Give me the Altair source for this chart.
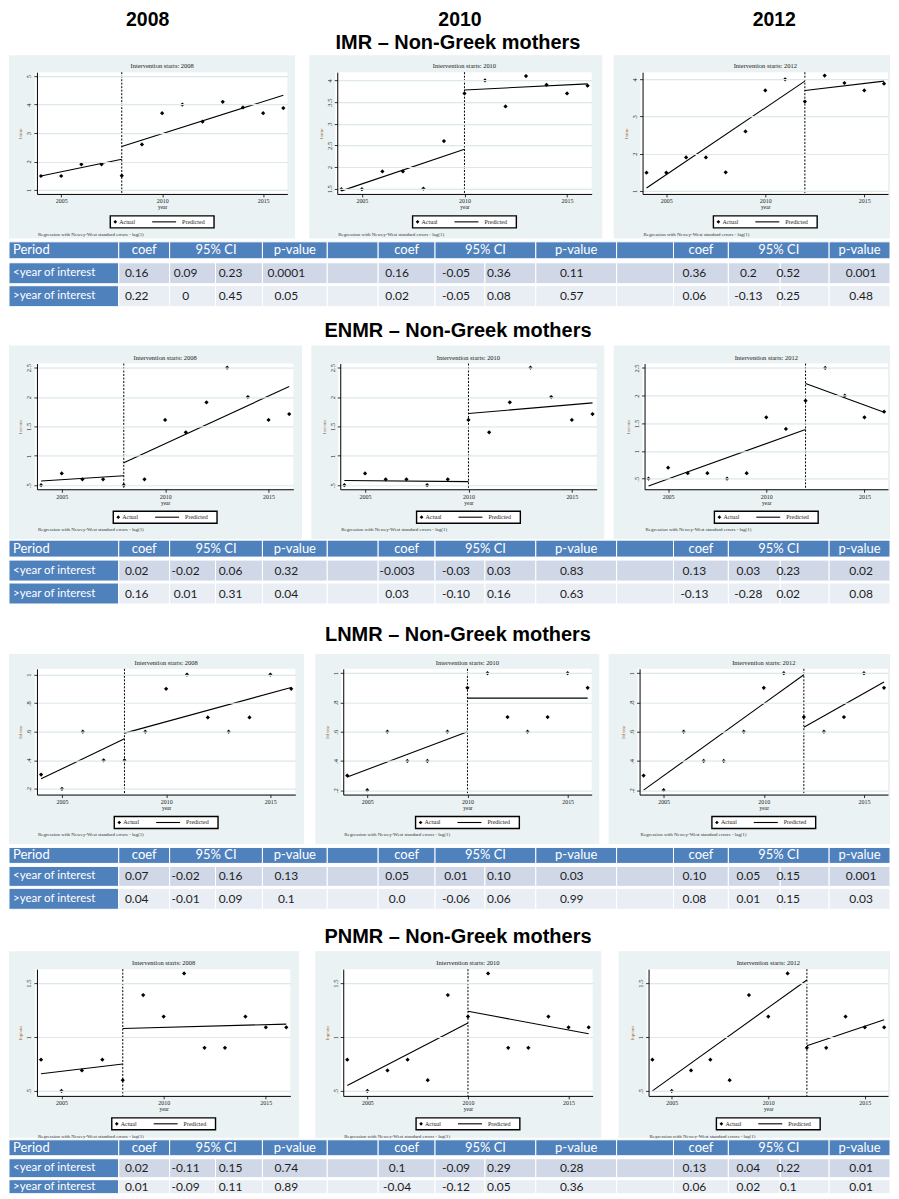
import altair as alt
import pandas as pd

# ---------------- data ----------------
years = [2004, 2005, 2006, 2007, 2008, 2009, 2010, 2011, 2012, 2013, 2014, 2015, 2016]
interventions = [2008, 2010, 2012]
section_titles = ["IMR – Non-Greek mothers", "ENMR – Non-Greek mothers",
                  "LNMR – Non-Greek mothers", "PNMR – Non-Greek mothers"]
y_titles = ["lnimr", "lnenmr", "lnlnmr", "lnpnmr"]

imr = [1.49, 1.49, 1.90, 1.90, 1.50, 2.60, 3.70, 4.00, 3.40, 4.10, 3.90, 3.70, 3.88]
enmr = [0.50, 0.70, 0.60, 0.60, 0.50, 0.60, 1.61, 1.40, 1.91, 2.50, 2.00, 1.61, 1.71]
lnmr = [0.30, 0.20, 0.60, 0.40, 0.40, 0.60, 0.90, 1.00, 0.70, 0.60, 0.70, 1.00, 0.90]
pnmr = [0.79, 0.50, 0.69, 0.79, 0.60, 1.39, 1.19, 1.59, 0.90, 0.90, 1.19, 1.09, 1.09]

# predicted segments: [pre at 2004, pre at intervention, post at intervention, post at 2016]
imr_fit = [[1.49, 2.08, 2.53, 4.33], [1.45, 2.41, 3.78, 3.92], [1.08, 3.95, 3.70, 3.95]]
enmr_fit = [[0.57, 0.66, 0.88, 2.18], [0.58, 0.56, 1.72, 1.90], [0.37, 1.39, 2.22, 1.70]]
lnmr_fit = [[0.27, 0.55, 0.59, 0.91], [0.29, 0.60, 0.83, 0.83], [0.20, 0.99, 0.63, 0.94]]
pnmr_fit = [[0.66, 0.75, 1.08, 1.12], [0.55, 1.13, 1.24, 1.03], [0.50, 1.53, 0.92, 1.16]]

imr_ticks = [[1, 2, 3, 4, 5], [1.5, 2, 2.5, 3, 3.5, 4], [1, 2, 3, 4]]
enmr_ticks = [[0.5, 1, 1.5, 2, 2.5]] * 3
lnmr_ticks = [[0.2, 0.4, 0.6, 0.8, 1]] * 3
pnmr_ticks = [[0.5, 1, 1.5]] * 3

imr_ydom = [[0.86, 5.14], [1.38, 4.19], [0.92, 4.19]]
enmr_ydom = [[0.43, 2.57], [0.43, 2.57], [0.31, 2.58]]
lnmr_ydom = [[0.16, 1.04], [0.17, 1.03], [0.17, 1.03]]
pnmr_ydom = [[0.454, 1.63], [0.454, 1.63], [0.454, 1.63]]

header_labels = ["Period", "coef", "95% CI", "p-value", "", "coef", "95% CI", "p-value",
                 "", "coef", "95% CI", "p-value"]
period_labels = ["<year of interest", ">year of interest"]

imr_table = [["0.16", "0.09", "0.23", "0.0001", "0.16", "-0.05", "0.36", "0.11", "0.36", "0.2", "0.52", "0.001"],
             ["0.22", "0", "0.45", "0.05", "0.02", "-0.05", "0.08", "0.57", "0.06", "-0.13", "0.25", "0.48"]]
enmr_table = [["0.02", "-0.02", "0.06", "0.32", "-0.003", "-0.03", "0.03", "0.83", "0.13", "0.03", "0.23", "0.02"],
              ["0.16", "0.01", "0.31", "0.04", "0.03", "-0.10", "0.16", "0.63", "-0.13", "-0.28", "0.02", "0.08"]]
lnmr_table = [["0.07", "-0.02", "0.16", "0.13", "0.05", "0.01", "0.10", "0.03", "0.10", "0.05", "0.15", "0.001"],
              ["0.04", "-0.01", "0.09", "0.1", "0.0", "-0.06", "0.06", "0.99", "0.08", "0.01", "0.15", "0.03"]]
pnmr_table = [["0.02", "-0.11", "0.15", "0.74", "0.1", "-0.09", "0.29", "0.28", "0.13", "0.04", "0.22", "0.01"],
              ["0.01", "-0.09", "0.11", "0.89", "-0.04", "-0.12", "0.05", "0.36", "0.06", "0.02", "0.1", "0.01"]]

# ---------------- layout / style ----------------
SERIF = "Liberation Serif"
SANS = "Lato"
TITLE_FONT = "Liberation Sans"
FRAME = "#EAF2F3"
ORIGIN = 8
TW = 883

# per row: (frame top, frame bottom, plot top, plot bottom) in page px
ROW_V = [(54, 238, 71, 193), (344, 538, 362, 488), (652, 843, 667, 793), (949, 1136, 967, 1094)]
# per row, per panel: (frame left, frame right, plot left, plot right) in page px
ROW_H = [
    [(8, 295, 36, 287), (309, 603, 337, 592), (614, 891, 643, 889)],
    [(8, 302, 36, 293), (311, 605, 340, 597), (614, 891, 645, 889)],
    [(8, 304, 36, 295), (315, 600, 343, 592), (609, 891, 640, 889)],
    [(8, 299, 36, 290), (315, 602, 343, 593), (619, 891, 649, 889)],
]
COL_EDGES = [e - ORIGIN for e in [8, 118, 169, 215, 262, 327, 378, 435, 485, 536, 617, 674, 729, 781, 830, 891]]
# text anchor (page x) of the value in each data column
DATA_TX = [e - ORIGIN if e else 0 for e in
           [0, 136, 185, 230, 286, 0, 397, 456, 499, 572, 0, 695, 749, 789, 862]]
HDR_SPANS = [(0, 1), (1, 2), (2, 4), (4, 5), (5, 6), (6, 7), (7, 9), (9, 10), (10, 11), (11, 12), (12, 14), (14, 15)]
# table: (height, header y0,y1, row1 y0,y1, row2 y0,y1) local
TABLE_V = [(68, 3, 20, 24, 45, 47, 68), (65, 1, 18, 21, 42, 44, 65),
           (65, 3, 19, 22, 42, 44, 65), (55, 1, 17, 20, 39, 41, 55)]
# section headers: (height, title y)
HEAD_V = [(46, 33.3), (38, 23), (49, 30), (41, 27)]
YEAR_X = [139, 452, 767]
TITLE_X = 450

one = pd.DataFrame({"k": [0]})


def panel(series, fit, interv, ytitle, ticks, ydom, hg, vg, gap):
    fl, fr, pl, pr = hg
    ft, fb, pt, pb = vg
    VW = gap + (fr - fl)
    VH = fb - ft
    x0 = gap + (pl - fl)
    x1 = gap + (pr - fl)
    y0 = pt - ft
    y1 = pb - ft
    xs = alt.Scale(domain=[2003.8, 2016.2], range=[x0, x1], nice=False, zero=False)
    ys = alt.Scale(domain=ydom, range=[y1, y0], nice=False, zero=False)
    xax = alt.Axis(values=[2005, 2010, 2015], format="d", title="year", grid=False, zindex=1,
                   offset=-(VH - y1),
                   domainColor="black", domainWidth=1, tickColor="black", tickSize=3, tickWidth=0.8,
                   labelFont=SERIF, labelFontSize=6, labelColor="#222", labelPadding=1,
                   titleFont=SERIF, titleFontSize=5.5, titleFontWeight="normal", titleColor="#222",
                   titlePadding=1)
    yax = alt.Axis(values=ticks, labelAngle=270, labelAlign="center", labelBaseline="bottom",
                   labelExpr="replace(toString(datum.value), regexp('^0'), '')",
                   offset=-x0,
                   title=ytitle, grid=True, gridColor="#DCE8EC", gridWidth=1.2, zindex=1,
                   domainColor="black", domainWidth=1, tickColor="black", tickSize=3, tickWidth=0.8,
                   labelFont=SERIF, labelFontSize=6.5, labelColor="#222", labelPadding=2,
                   titleFont=SERIF, titleFontSize=5, titleFontWeight="normal", titleColor="#9a5a2a",
                   titlePadding=3)

    def X(f):
        return alt.X(f, scale=xs, axis=xax)

    def Y(f):
        return alt.Y(f, scale=ys, axis=yax)

    layers = []
    layers.append(alt.Chart(one).mark_rect(fill="white").encode(
        x=alt.value(0), x2=alt.value(VW), y=alt.value(0), y2=alt.value(VH)))
    layers.append(alt.Chart(one).mark_rect(fill=FRAME).encode(
        x=alt.value(gap), x2=alt.value(VW), y=alt.value(0), y2=alt.value(VH)))
    layers.append(alt.Chart(one).mark_rect(fill="white").encode(
        x=alt.value(x0 - 2), x2=alt.value(x1), y=alt.value(y0), y2=alt.value(y1)))

    pts = pd.DataFrame({"year": years, "value": series})
    seg = pd.DataFrame({"year": [years[0], interv, interv, years[-1]],
                        "value": fit, "seg": ["pre", "pre", "post", "post"]})
    vl = pd.DataFrame({"year": [interv]})

    layers.append(alt.Chart(vl).mark_rule(color="black", strokeWidth=1, strokeDash=[2, 1.5]).encode(
        x=X("year:Q"), y=alt.value(y0), y2=alt.value(y1)))
    layers.append(alt.Chart(seg).mark_line(color="black", strokeWidth=1.1).encode(
        x=X("year:Q"), y=Y("value:Q"), detail="seg:N"))
    layers.append(alt.Chart(pts).mark_point(shape="diamond", filled=True, size=18, color="black",
                                            opacity=1).encode(x=X("year:Q"), y=Y("value:Q")))
    cx = (x0 + x1) / 2
    layers.append(alt.Chart(one).mark_text(font=SERIF, fontSize=6.5, color="#1a1a1a",
                                           align="center", baseline="middle").encode(
        x=alt.value(cx), y=alt.value(y0 - 6), text=alt.value(f"Intervention starts: {interv}")))
    # legend
    bx0 = cx - 52
    ly = y1 + 28
    layers.append(alt.Chart(one).mark_rect(fill="white", stroke="black", strokeWidth=1.4).encode(
        x=alt.value(bx0), x2=alt.value(bx0 + 104), y=alt.value(y1 + 22), y2=alt.value(y1 + 34)))
    layers.append(alt.Chart(one).mark_point(shape="diamond", filled=True, size=14, color="black",
                                            opacity=1).encode(x=alt.value(bx0 + 5), y=alt.value(ly)))
    layers.append(alt.Chart(one).mark_rule(color="black", strokeWidth=1.1).encode(
        x=alt.value(bx0 + 42), x2=alt.value(bx0 + 66), y=alt.value(ly)))
    layers.append(alt.Chart(one).mark_text(font=SERIF, fontSize=6, color="#222", align="left",
                                           baseline="middle").encode(
        x=alt.value(bx0 + 9), y=alt.value(ly), text=alt.value("Actual")))
    layers.append(alt.Chart(one).mark_text(font=SERIF, fontSize=6, color="#222", align="left",
                                           baseline="middle").encode(
        x=alt.value(bx0 + 72), y=alt.value(ly), text=alt.value("Predicted")))
    layers.append(alt.Chart(one).mark_text(font=SERIF, fontSize=5, color="#333", align="left",
                                           baseline="middle").encode(
        x=alt.value(x0 + 1), y=alt.value(y1 + 40),
        text=alt.value("Regression with Newey-West standard errors - lag(1)")))
    return alt.layer(*layers).properties(width=VW, height=VH)


def header_chart(idx):
    H, ty = HEAD_V[idx]
    layers = [alt.Chart(one).mark_text(font=TITLE_FONT, fontWeight="bold", fontSize=20, color="black",
                                       align="center", baseline="middle").encode(
        x=alt.value(TITLE_X), y=alt.value(ty), text=alt.value(section_titles[idx]))]
    if idx == 0:
        for yx, yv in zip(YEAR_X, interventions):
            layers.append(alt.Chart(one).mark_text(font=TITLE_FONT, fontWeight="bold", fontSize=19.5,
                                                   color="black", align="center",
                                                   baseline="middle").encode(
                x=alt.value(yx), y=alt.value(11), text=alt.value(str(yv))))
    return alt.layer(*layers).properties(width=TW, height=H)


def table_chart(rows, idx):
    H, h0, h1, a0, a1, b0, b1 = TABLE_V[idx]
    recs = []
    for lab, (a, b) in zip(header_labels, HDR_SPANS):
        recs.append(dict(x0=COL_EDGES[a], x1=COL_EDGES[b], y0=h0, y1=h1, fill="#4F81BD",
                         text=lab, kind="hl" if lab == "Period" else "hc",
                         tx=(COL_EDGES[a] + COL_EDGES[b]) / 2))
    for ri, (y0, y1, fc) in enumerate([(a0, a1, "#D0D8E8"), (b0, b1, "#E9EDF4")]):
        recs.append(dict(x0=COL_EDGES[0], x1=COL_EDGES[1], y0=y0, y1=y1, fill="#4F81BD",
                         text=period_labels[ri], kind="dl", tx=COL_EDGES[0] + 4))
        vi = 0
        for c in range(1, 15):
            if c in (5, 10):
                t = ""
            else:
                t = rows[ri][vi]
                vi += 1
            recs.append(dict(x0=COL_EDGES[c], x1=COL_EDGES[c + 1], y0=y0, y1=y1, fill=fc,
                             text=t, kind="dc", tx=DATA_TX[c]))
    df = pd.DataFrame(recs)
    df.loc[df["kind"] == "hl", "tx"] = COL_EDGES[0] + 4
    df["ty"] = (df["y0"] + df["y1"]) / 2
    xs = alt.Scale(domain=[0, TW], nice=False, zero=False)
    ys = alt.Scale(domain=[0, H], nice=False, zero=False, reverse=True)
    base = alt.Chart(df)
    bg = alt.Chart(one).mark_rect(fill="white").encode(
        x=alt.value(0), x2=alt.value(TW), y=alt.value(0), y2=alt.value(H))
    rect = base.mark_rect(stroke="white", strokeWidth=1).encode(
        x=alt.X("x0:Q", scale=xs, axis=None), x2="x1:Q",
        y=alt.Y("y0:Q", scale=ys, axis=None), y2="y1:Q",
        fill=alt.Color("fill:N", scale=None))

    def txt(kind, align, color, size):
        return base.transform_filter(alt.datum.kind == kind).mark_text(
            font=SANS, fontSize=size, color=color, align=align, baseline="middle").encode(
            x=alt.X("tx:Q", scale=xs, axis=None),
            y=alt.Y("ty:Q", scale=ys, axis=None), text="text:N")

    layers = [bg, rect,
              txt("hc", "center", "white", 13),
              txt("hl", "left", "white", 13),
              txt("dl", "left", "white", 11.5),
              txt("dc", "center", "#1e1e1e", 12)]
    return alt.layer(*layers).properties(width=TW, height=H)


series_all = [imr, enmr, lnmr, pnmr]
fits_all = [imr_fit, enmr_fit, lnmr_fit, pnmr_fit]
ticks_all = [imr_ticks, enmr_ticks, lnmr_ticks, pnmr_ticks]
ydom_all = [imr_ydom, enmr_ydom, lnmr_ydom, pnmr_ydom]
tables_all = [imr_table, enmr_table, lnmr_table, pnmr_table]

rows = []
for r in range(4):
    rows.append(header_chart(r))
    panels = []
    for c in range(3):
        gap = 0 if c == 0 else ROW_H[r][c][0] - ROW_H[r][c - 1][1]
        panels.append(panel(series_all[r], fits_all[r][c], interventions[c], y_titles[r],
                            ticks_all[r][c], ydom_all[r][c], ROW_H[r][c], ROW_V[r], gap))
    rows.append(alt.hconcat(*panels, spacing=0))
    rows.append(table_chart(tables_all[r], r))

chart = alt.vconcat(*rows, spacing=0).properties(padding=0, background="white").configure_view(
    strokeWidth=0, fill="white").configure_concat(spacing=0)

chart.save("out.html", embed_options={"renderer": "svg", "actions": False})
